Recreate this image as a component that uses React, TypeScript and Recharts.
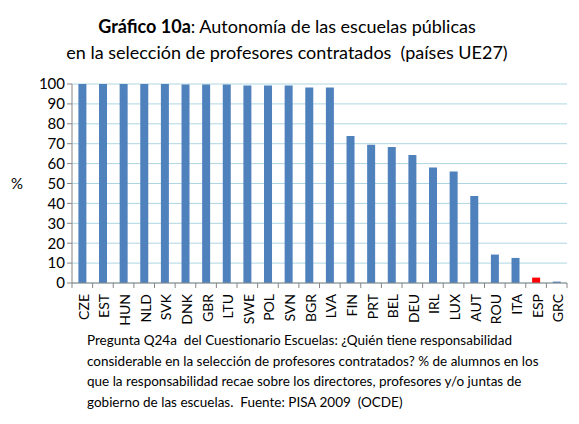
import React from "react";
import {
  BarChart,
  Bar,
  Cell,
  CartesianGrid,
  XAxis,
  YAxis,
} from "recharts";

const countries = [
  "CZE", "EST", "HUN", "NLD", "SVK", "DNK", "GBR", "LTU", "SWE",
  "POL", "SVN", "BGR", "LVA", "FIN", "PRT", "BEL", "DEU", "IRL",
  "LUX", "AUT", "ROU", "ITA", "ESP", "GRC",
];

const values = [
  100, 100, 100, 100, 100, 99.7, 99.7, 99.7, 99.2,
  99.2, 99.2, 98.2, 98.2, 73.9, 69.5, 68.3, 64.3, 58.0,
  56.0, 43.7, 14.3, 12.6, 2.7, 0.7,
];

const highlighted = ["ESP"];

const yTicks = [0, 10, 20, 30, 40, 50, 60, 70, 80, 90, 100];

const data = countries.map((c, i) => ({ country: c, value: values[i] }));

const FONT = "Lato, 'Open Sans', sans-serif";
const BLUE = "#4f81bd";
const RED = "#ff0000";

const CHART_W = 579;
const CHART_H = 340;
const MARGIN = { top: 84, right: 12, bottom: 7, left: 22 };
const Y_AXIS_W = 50;
const HALF_BAND =
  (CHART_W - MARGIN.left - Y_AXIS_W - MARGIN.right) / countries.length / 2;

// x tick: rotated label plus Excel-style tick marks between categories
const CountryTick = (props: any) => {
  const { x, y, payload, index } = props;
  const last = index === countries.length - 1;
  return (
    <g>
      <line
        x1={x - HALF_BAND}
        x2={x - HALF_BAND}
        y1={y - 8}
        y2={y - 3}
        stroke="#868686"
      />
      {last && (
        <line
          x1={x + HALF_BAND}
          x2={x + HALF_BAND}
          y1={y - 8}
          y2={y - 3}
          stroke="#868686"
        />
      )}
      <text
        x={0}
        y={0}
        transform={`translate(${x + 1},${y + 3}) rotate(-90)`}
        textAnchor="end"
        dominantBaseline="central"
        fontFamily={FONT}
        fontSize={14}
        fill="#000"
      >
        {payload.value}
      </text>
    </g>
  );
};

export default function App() {
  return (
    <div
      style={{
        position: "absolute",
        left: 0,
        top: 0,
        width: 579,
        height: 424,
        background: "#fff",
        fontFamily: FONT,
        color: "#000",
      }}
    >
      {/* title */}
      <div
        style={{
          position: "absolute",
          left: 0,
          width: 574,
          top: 13,
          textAlign: "center",
          fontSize: 18,
          lineHeight: "26px",
          whiteSpace: "pre",
        }}
      >
        <span style={{ fontWeight: 700 }}>Gráfico 10a</span>
        {": Autonomía de las escuelas públicas\n"}
        {"en la selección de profesores contratados  (países UE27)"}
      </div>

      <div
        style={{
          position: "absolute",
          left: 11,
          top: 174,
          fontSize: 15,
        }}
      >
        %
      </div>

      <div style={{ position: "absolute", left: 0, top: 0 }}>
        <BarChart
          width={CHART_W}
          height={CHART_H}
          data={data}
          margin={MARGIN}
          barCategoryGap="31%"
        >
          <CartesianGrid vertical={false} stroke="#aed6e2" />
          <XAxis
            dataKey="country"
            interval={0}
            height={50}
            axisLine={{ stroke: "#868686" }}
            tickLine={false}
            tick={<CountryTick />}
          />
          <YAxis
            width={Y_AXIS_W}
            domain={[0, 100]}
            ticks={yTicks}
            interval={0}
            axisLine={{ stroke: "#868686" }}
            tickLine={{ stroke: "#868686" }}
            tickSize={5}
            tick={{ fill: "#000", fontSize: 15, fontFamily: FONT }}
          />
          <Bar dataKey="value" isAnimationActive={false}>
            {data.map((d) => (
              <Cell
                key={d.country}
                fill={highlighted.includes(d.country) ? RED : BLUE}
              />
            ))}
          </Bar>
        </BarChart>
      </div>

      {/* footnote */}
      <div
        style={{
          position: "absolute",
          left: 87,
          top: 330,
          fontSize: 13.5,
          lineHeight: "20.5px",
          whiteSpace: "pre",
        }}
      >
        {"Pregunta Q24a  del Cuestionario Escuelas: ¿Quién tiene responsabilidad\n" +
          "considerable en la selección de profesores contratados? % de alumnos en los\n" +
          "que la responsabilidad recae sobre los directores, profesores y/o juntas de\n" +
          "gobierno de las escuelas.  Fuente: PISA 2009  (OCDE)"}
      </div>
    </div>
  );
}
